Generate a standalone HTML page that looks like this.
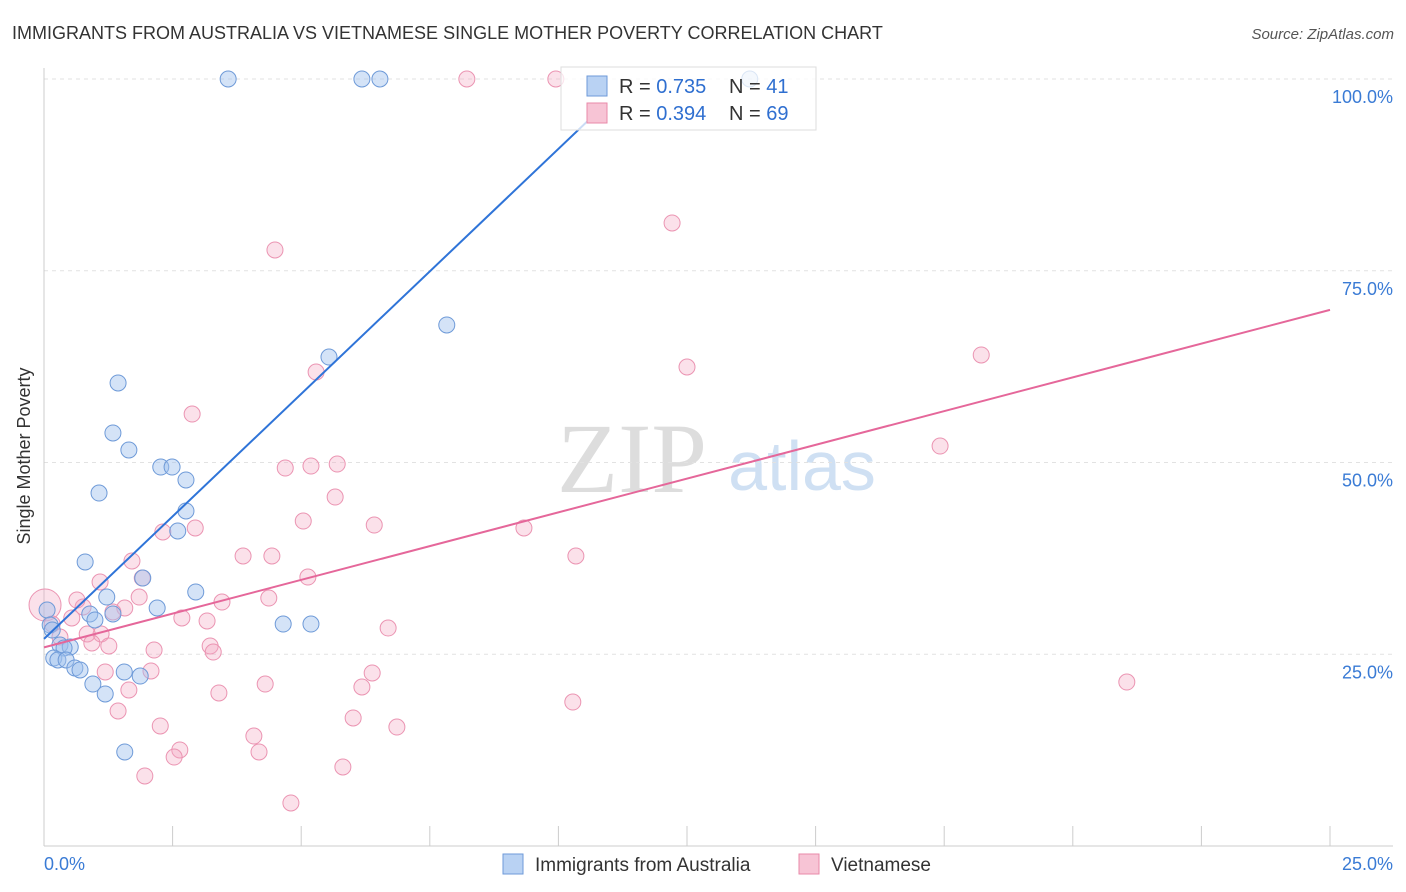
<!DOCTYPE html>
<html><head><meta charset="utf-8"><style>
body{margin:0;background:#fff;font-family:"Liberation Sans",sans-serif;}
svg{display:block}
</style></head><body>
<svg id="chart" width="1406" height="892">
<text x="12" y="39" font-size="18" fill="#333">IMMIGRANTS FROM AUSTRALIA VS VIETNAMESE SINGLE MOTHER POVERTY CORRELATION CHART</text>
<text x="1394" y="39" font-size="15" fill="#555" font-style="italic" text-anchor="end">Source: ZipAtlas.com</text>
<text x="30" y="456" font-size="18" fill="#333" text-anchor="middle" transform="rotate(-90 30 456)">Single Mother Poverty</text>
<g><text x="632" y="492" font-size="100" fill="#ddd" font-family="Liberation Serif,serif" text-anchor="middle">ZIP</text><text x="802" y="490" font-size="70" fill="#cfe0f3" text-anchor="middle">atlas</text></g>
<g id="grid"></g><g id="axes"></g><g id="pts"></g><g id="lines"></g>
<g>
<rect x="561" y="67" width="255" height="63" fill="rgba(255,255,255,0.75)" stroke="#ddd"/>
<rect x="587" y="76" width="20" height="20" fill="#b9d2f3" stroke="#6e9ad8"/>
<rect x="587" y="103" width="20" height="20" fill="#f7c4d5" stroke="#e98aa9"/>
<text x="619" y="93" font-size="20" fill="#333">R = <tspan fill="#2f6fd0">0.735</tspan></text>
<text x="729" y="93" font-size="20" fill="#333">N = <tspan fill="#2f6fd0">41</tspan></text>
<text x="619" y="120" font-size="20" fill="#333">R = <tspan fill="#2f6fd0">0.394</tspan></text>
<text x="729" y="120" font-size="20" fill="#333">N = <tspan fill="#2f6fd0">69</tspan></text>
</g>
<g>
<rect x="503" y="854" width="20" height="20" fill="#b9d2f3" stroke="#6e9ad8"/>
<text x="535" y="871" font-size="19" fill="#333">Immigrants from Australia</text>
<rect x="799" y="854" width="20" height="20" fill="#f7c4d5" stroke="#e98aa9"/>
<text x="831" y="871" font-size="19" fill="#333">Vietnamese</text>
</g>
</svg>
<script>
const blueX=[3.58,6.18,6.53,13.72,7.83,5.54,1.44,1.34,1.65,2.27,2.49,2.76,1.07,2.76,2.60,0.80,1.92,2.95,1.22,2.20,0.89,1.34,0.99,0.06,0.12,0.16,4.65,5.19,0.31,0.51,0.39,0.19,0.27,0.43,0.60,0.70,1.56,1.87,0.95,1.19,1.57];
const blueY=[100,100,100,100,67.93,63.75,60.37,53.85,51.63,49.41,49.41,47.72,46.02,43.68,41.07,37.03,34.94,33.12,32.46,31.03,30.25,30.25,29.47,30.77,28.81,28.16,28.94,28.94,26.21,25.95,25.82,24.51,24.25,24.25,23.21,22.95,22.69,22.16,21.12,19.82,12.26];
const pinkX=[8.22,9.95,12.21,4.49,5.29,12.50,18.22,2.88,17.42,4.69,5.19,5.70,5.66,5.04,6.42,9.33,2.31,2.94,3.87,4.43,10.34,1.71,1.91,5.13,1.09,4.37,3.46,1.85,0.02,0.76,1.57,0.64,1.34,2.68,3.17,0.54,0.16,6.69,1.11,0.84,0.31,0.93,1.26,3.23,3.29,2.14,2.08,1.19,6.38,4.30,6.18,3.40,1.65,21.05,10.28,1.44,6.01,2.26,6.86,4.08,2.64,2.53,4.18,5.81,1.96,4.80];
const pinkY=[100,100,81.23,77.71,61.80,62.45,64.02,56.32,52.15,49.28,49.54,49.80,45.50,42.37,41.85,41.46,40.94,41.46,37.81,37.81,37.81,37.16,34.94,35.07,34.42,32.33,31.81,32.46,31.42,31.16,31.03,32.07,30.51,29.73,29.34,29.73,28.94,28.42,27.64,27.64,27.25,26.47,26.08,26.08,25.29,25.55,22.82,22.69,22.56,21.12,20.73,19.95,20.34,21.38,18.77,17.60,16.69,15.65,15.51,14.34,12.52,11.60,12.26,10.30,9.13,5.61];
const blueLine=[0,27.0,10.8,96.0];
const pinkLine=[0,25.9,25,69.9];
const yTicks=[25,50,75,100];
const xTickCount=10;
const NS="http://www.w3.org/2000/svg";
const X=v=>44+v*51.44, Y=v=>846-v*7.67;
function mk(tag,attrs,parent){const e=document.createElementNS(NS,tag);for(const k in attrs)e.setAttribute(k,attrs[k]);document.getElementById(parent).appendChild(e);return e;}
yTicks.forEach(t=>{
 const l=mk('line',{x1:44,x2:1393,y1:Y(t),y2:Y(t),stroke:'#e2e2e2','stroke-dasharray':'4,4'},'grid');
 
 
 const tx=mk('text',{x:1393,y:Y(t)+24,'font-size':18,fill:'#3a7bd5','text-anchor':'end'},'grid');
 tx.textContent=t.toFixed(1)+'%';
 
 
});
let a=mk('line',{x1:44,x2:44,y1:68,y2:846,stroke:'#ccc'},'axes');


a=mk('line',{x1:44,x2:1393,y1:846,y2:846,stroke:'#ccc'},'axes');


for(let i=1;i<=xTickCount;i++){const t=mk('line',{x1:X(i*2.5),x2:X(i*2.5),y1:826,y2:846,stroke:'#ccc'},'axes');
 
 }
[['0.0%',44,'start'],['25.0%',1393,'end']].forEach(([s,x,an])=>{const t=mk('text',{x:x,y:870,'font-size':18,fill:'#3a7bd5','text-anchor':an},'axes');t.textContent=s;
 
 });
pinkX.forEach((v,i)=>{const c=mk('circle',{cx:X(v),cy:Y(pinkY[i]),r:i==28?16:8,fill:'rgba(244,170,196,0.35)',stroke:'#eb94b2','stroke-width':1},'pts');
 
 });
blueX.forEach((v,i)=>{const c=mk('circle',{cx:X(v),cy:Y(blueY[i]),r:8,fill:'rgba(160,192,238,0.45)',stroke:'#6e9ad8','stroke-width':1},'pts');
 
 });
let ln=mk('line',{x1:X(blueLine[0]),y1:Y(blueLine[1]),x2:X(blueLine[2]),y2:Y(blueLine[3]),stroke:'#2f74d8','stroke-width':2},'lines');


ln=mk('line',{x1:X(pinkLine[0]),y1:Y(pinkLine[1]),x2:X(pinkLine[2]),y2:Y(pinkLine[3]),stroke:'#e5679a','stroke-width':2},'lines');


</script>
</body></html>
